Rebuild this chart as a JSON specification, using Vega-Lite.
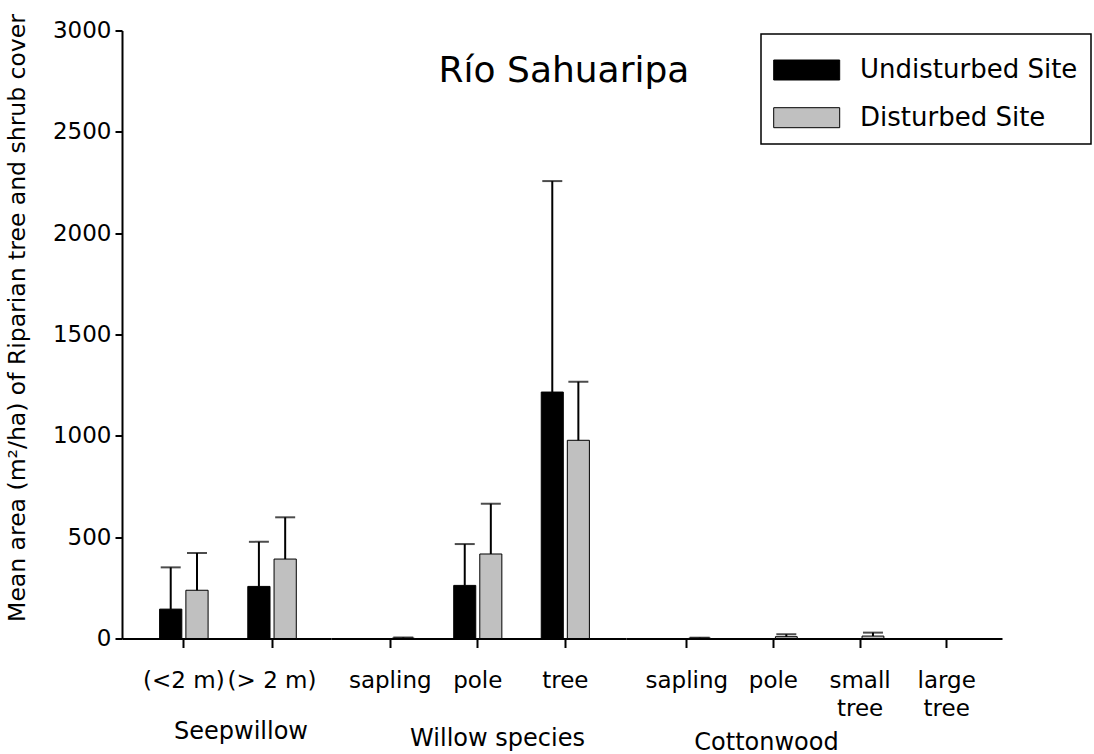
{
  "$schema": "https://vega.github.io/schema/vega-lite/v6.json",
  "autosize": {"type": "pad"},
  "padding": {"left": 5, "top": 13.5, "right": 0, "bottom": 0},
  "background": "white",
  "config": {
    "font": "DejaVu Sans",
    "view": {"stroke": null},
    "axis": {
      "domainColor": "black", "domainWidth": 2, "tickColor": "black", "tickWidth": 2,
      "labelColor": "black", "labelFont": "DejaVu Sans", "labelFontSize": 23,
      "titleColor": "black", "titleFont": "DejaVu Sans", "titleFontWeight": "normal",
      "grid": false, "zindex": 1, "labelOverlap": false, "labelBound": false, "labelFlush": false
    },
    "axisX": {"tickSize": 9, "labelPadding": 22, "labelAngle": 0, "titleFontSize": 24, "titleBaseline": "alphabetic", "labelLineHeight": 28},
    "axisY": {"tickSize": 7, "labelPadding": 4, "titleFontSize": 23.5},
    "legend": {
      "orient": "none", "legendX": 639, "legendY": 3.5,
      "strokeColor": "black", "strokeWidth": 1.5, "fillColor": "white", "padding": 13,
      "titleFontSize": 6, "titlePadding": 4, "titleColor": "white",
      "labelFont": "DejaVu Sans", "labelFontSize": 26, "labelColor": "black", "labelLimit": 0,
      "symbolType": "M-2.66,-2H10.54V2H-2.66Z", "symbolSize": 100, "symbolStrokeColor": "black",
      "symbolStrokeWidth": 1, "symbolOpacity": 1, "labelOffset": 60, "rowPadding": 21.7
    }
  },
  "title": {"text": "Río Sahuaripa", "font": "DejaVu Sans", "fontSize": 36, "fontWeight": "normal", "color": "black", "anchor": "middle", "frame": "group", "dx": 442, "dy": 80},
  "data": {"values": [
    {"group": "Seepwillow", "cat": "(<2 m)", "site": "Undisturbed Site", "value": 145, "upper": 351},
    {"group": "Seepwillow", "cat": "(<2 m)", "site": "Disturbed Site", "value": 238, "upper": 422},
    {"group": "Seepwillow", "cat": "(> 2 m)", "site": "Undisturbed Site", "value": 257, "upper": 477},
    {"group": "Seepwillow", "cat": "(> 2 m)", "site": "Disturbed Site", "value": 392, "upper": 598},
    {"group": "Willow species", "cat": "sapling", "site": "Undisturbed Site", "value": 0, "upper": null},
    {"group": "Willow species", "cat": "sapling", "site": "Disturbed Site", "value": 2, "upper": 5},
    {"group": "Willow species", "cat": "pole", "site": "Undisturbed Site", "value": 262, "upper": 466},
    {"group": "Willow species", "cat": "pole", "site": "Disturbed Site", "value": 417, "upper": 665},
    {"group": "Willow species", "cat": "tree", "site": "Undisturbed Site", "value": 1216, "upper": 2257},
    {"group": "Willow species", "cat": "tree", "site": "Disturbed Site", "value": 978, "upper": 1267},
    {"group": "Cottonwood", "cat": "sapling", "site": "Undisturbed Site", "value": 0, "upper": null},
    {"group": "Cottonwood", "cat": "sapling", "site": "Disturbed Site", "value": 2, "upper": 4},
    {"group": "Cottonwood", "cat": "pole", "site": "Undisturbed Site", "value": 0, "upper": null},
    {"group": "Cottonwood", "cat": "pole", "site": "Disturbed Site", "value": 9, "upper": 21},
    {"group": "Cottonwood", "cat": "small tree", "site": "Undisturbed Site", "value": 0, "upper": null},
    {"group": "Cottonwood", "cat": "small tree", "site": "Disturbed Site", "value": 12, "upper": 29},
    {"group": "Cottonwood", "cat": "large tree", "site": "Undisturbed Site", "value": 0, "upper": null},
    {"group": "Cottonwood", "cat": "large tree", "site": "Disturbed Site", "value": 0, "upper": null}
  ]},
  "spacing": 0,
  "bounds": "flush",
  "resolve": {"scale": {"x": "independent", "xOffset": "independent", "y": "independent", "color": "shared"}},
  "hconcat": [
    {
      "width": 209, "height": 608,
      "transform": [{"filter": "datum.group === 'Seepwillow'"}],
      "encoding": {
        "x": {"field": "cat", "type": "nominal", "sort": ["(<2 m)", "(> 2 m)"],
              "scale": {"paddingInner": 0.45, "paddingOuter": 0.41, "align": 0.52},
              "axis": {"title": "Seepwillow", "titleX": 118.5, "titleY": 100}},
        "xOffset": {"field": "site", "type": "nominal", "sort": ["Undisturbed Site", "Disturbed Site"], "scale": {"paddingInner": 0.154, "paddingOuter": 0}}
      },
      "layer": [
        {"mark": {"type": "bar", "stroke": "black", "strokeWidth": 1},
         "encoding": {
           "y": {"field": "value", "type": "quantitative", "scale": {"domain": [0, 3000]},
                 "axis": {"values": [0, 500, 1000, 1500, 2000, 2500, 3000], "format": "d", "title": "Mean area (m²/ha) of Riparian tree and shrub cover", "titleX": -105, "titleY": 287, "titleBaseline": "middle", "titleAlign": "center"}},
           "color": {"field": "site", "type": "nominal", "scale": {"domain": ["Undisturbed Site", "Disturbed Site"], "range": ["#000000", "#c0c0c0"]}, "legend": {"title": " "}}
         }},
        {"transform": [{"filter": "isValid(datum.upper)"}],
         "mark": {"type": "rule", "color": "black", "strokeWidth": 2},
         "encoding": {"y": {"field": "value", "type": "quantitative", "scale": {"domain": [0, 3000]}}, "y2": {"field": "upper"}}},
        {"transform": [{"filter": "isValid(datum.upper)"}],
         "mark": {"type": "tick", "color": "black", "thickness": 2, "size": 20, "orient": "horizontal"},
         "encoding": {"y": {"field": "upper", "type": "quantitative", "scale": {"domain": [0, 3000]}}}}
      ]
    },
    {
      "width": 295, "height": 608,
      "transform": [{"filter": "datum.group === 'Willow species'"}],
      "encoding": {
        "x": {"field": "cat", "type": "nominal", "sort": ["sapling", "pole", "tree"],
              "scale": {"paddingInner": 0.45, "paddingOuter": 0.41, "align": 0.49},
              "axis": {"title": "Willow species", "titleX": 166, "titleY": 107}},
        "xOffset": {"field": "site", "type": "nominal", "sort": ["Undisturbed Site", "Disturbed Site"], "scale": {"paddingInner": 0.154, "paddingOuter": 0}}
      },
      "layer": [
        {"mark": {"type": "bar", "stroke": "black", "strokeWidth": 1},
         "encoding": {
           "y": {"field": "value", "type": "quantitative", "scale": {"domain": [0, 3000]}, "axis": null},
           "color": {"field": "site", "type": "nominal", "scale": {"domain": ["Undisturbed Site", "Disturbed Site"], "range": ["#000000", "#c0c0c0"]}, "legend": {"title": " "}}
         }},
        {"transform": [{"filter": "isValid(datum.upper)"}],
         "mark": {"type": "rule", "color": "black", "strokeWidth": 2},
         "encoding": {"y": {"field": "value", "type": "quantitative", "scale": {"domain": [0, 3000]}, "axis": null}, "y2": {"field": "upper"}}},
        {"transform": [{"filter": "isValid(datum.upper)"}],
         "mark": {"type": "tick", "color": "black", "thickness": 2, "size": 20, "orient": "horizontal"},
         "encoding": {"y": {"field": "upper", "type": "quantitative", "scale": {"domain": [0, 3000]}, "axis": null}}}
      ]
    },
    {
      "width": 376, "height": 608,
      "transform": [{"filter": "datum.group === 'Cottonwood'"}],
      "encoding": {
        "x": {"field": "cat", "type": "nominal", "sort": ["sapling", "pole", "small tree", "large tree"],
              "scale": {"paddingInner": 0.45, "paddingOuter": 0.395, "align": 0.54},
              "axis": {"title": "Cottonwood", "titleX": 140, "titleY": 111, "labelExpr": "split(datum.label, ' ')"}},
        "xOffset": {"field": "site", "type": "nominal", "sort": ["Undisturbed Site", "Disturbed Site"], "scale": {"paddingInner": 0.154, "paddingOuter": 0}}
      },
      "layer": [
        {"mark": {"type": "bar", "stroke": "black", "strokeWidth": 1},
         "encoding": {
           "y": {"field": "value", "type": "quantitative", "scale": {"domain": [0, 3000]}, "axis": null},
           "color": {"field": "site", "type": "nominal", "scale": {"domain": ["Undisturbed Site", "Disturbed Site"], "range": ["#000000", "#c0c0c0"]}, "legend": {"title": " "}}
         }},
        {"transform": [{"filter": "isValid(datum.upper)"}],
         "mark": {"type": "rule", "color": "black", "strokeWidth": 2},
         "encoding": {"y": {"field": "value", "type": "quantitative", "scale": {"domain": [0, 3000]}, "axis": null}, "y2": {"field": "upper"}}},
        {"transform": [{"filter": "isValid(datum.upper)"}],
         "mark": {"type": "tick", "color": "black", "thickness": 2, "size": 20, "orient": "horizontal"},
         "encoding": {"y": {"field": "upper", "type": "quantitative", "scale": {"domain": [0, 3000]}, "axis": null}}}
      ]
    }
  ]
}
